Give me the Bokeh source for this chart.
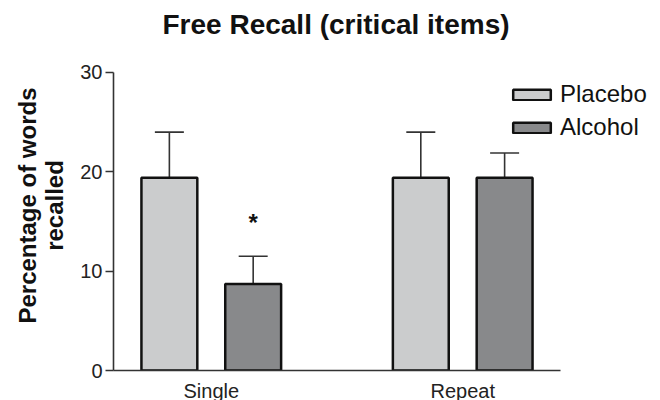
from bokeh.plotting import figure
from bokeh.models import (Range1d, FixedTicker, Whisker, TeeHead, ColumnDataSource,
                          Legend, LegendItem)
from bokeh.core.properties import value
from bokeh.embed import file_html
from bokeh.resources import INLINE

# ---- data ----
conditions = ["Single", "Repeat"]
placebo = [19.4, 19.4]
alcohol = [8.7, 19.4]
placebo_err = [4.6, 4.6]
alcohol_err = [2.8, 2.5]
y_ticks = [0, 10, 20, 30]
significant = [True, False]  # alcohol differs from placebo

FONT = "Liberation Sans"
PLACEBO_COLOR = "#cbcccd"
ALCOHOL_COLOR = "#88898b"

# layout of groups along a numeric x axis
group_gap = 4.5
group_start = 1.75
bar_offset = 0.75
bar_w = 1.0
centers = [group_start + i * group_gap for i in range(len(conditions))]
x_pl = [c - bar_offset for c in centers]
x_al = [c + bar_offset for c in centers]

p = figure(frame_width=547, frame_height=330, output_backend="svg",
           toolbar_location=None, x_range=Range1d(0, 9.79), y_range=Range1d(0, 33.22),
           min_border_left=113, min_border_right=0, min_border_top=40,
           min_border_bottom=0)
p.outline_line_color = None
p.grid.visible = False
p.background_fill_color = "white"

p.title.text = "Free Recall (critical items)"
p.title.text_font = FONT
p.title.text_font_size = "28px"
p.title.text_font_style = "bold"
p.title.text_color = "#111111"
p.title.align = "left"
p.title.offset = 49
p.title.standoff = 2

src_pl = ColumnDataSource(dict(x=x_pl, top=placebo, up=[v + e for v, e in zip(placebo, placebo_err)]))
src_al = ColumnDataSource(dict(x=x_al, top=alcohol, up=[v + e for v, e in zip(alcohol, alcohol_err)]))

for src in (src_pl, src_al):
    w = Whisker(source=src, base="x", lower="top", upper="up", dimension="height",
                line_color="#333333", line_width=1.6, lower_head=None,
                upper_head=TeeHead(size=29, line_color="#333333", line_width=1.6))
    p.add_layout(w)

r_pl = p.vbar(x="x", top="top", width=bar_w, source=src_pl, fill_color=PLACEBO_COLOR,
              line_color="#111111", line_width=2.5)
r_al = p.vbar(x="x", top="top", width=bar_w, source=src_al, fill_color=ALCOHOL_COLOR,
              line_color="#111111", line_width=2.5)

star_x = [x for x, s in zip(x_al, significant) if s]
star_y = [14.9 for s in significant if s]
p.text(x=star_x, y=star_y, text=["*"] * len(star_x), text_font=value(FONT),
       text_font_size="24px", text_font_style="bold", text_align="center",
       text_baseline="alphabetic", text_color="#111111")

# axes
ya = p.yaxis[0]
ya.ticker = FixedTicker(ticks=y_ticks)
ya.bounds = (0, 30)
ya.axis_line_color = "#333333"
ya.axis_line_width = 1.6
ya.major_tick_line_color = "#333333"
ya.major_tick_line_width = 1.6
ya.major_tick_out = 8
ya.major_tick_in = 0
ya.minor_tick_line_color = None
ya.major_label_standoff = 3
ya.major_label_text_font = FONT
ya.major_label_text_font_size = "20px"
ya.major_label_text_color = "#222222"
ya.axis_label = "Percentage of words\nrecalled"
ya.axis_label_text_font = FONT
ya.axis_label_text_font_size = "24px"
ya.axis_label_text_font_style = "bold"
ya.axis_label_text_color = "#111111"
ya.axis_label_text_align = "center"
ya.axis_label_text_line_height = 1.0
ya.axis_label_standoff = 9

xa = p.xaxis[0]
xa.ticker = FixedTicker(ticks=centers)
xa.major_label_overrides = {c: n for c, n in zip(centers, conditions)}
xa.bounds = (0, 8)
xa.axis_line_color = "#333333"
xa.axis_line_width = 1.6
xa.major_tick_line_color = None
xa.minor_tick_line_color = None
xa.major_label_standoff = 3
xa.major_label_text_font = FONT
xa.major_label_text_font_size = "20px"
xa.major_label_text_color = "#222222"

legend = Legend(items=[LegendItem(label="Placebo", renderers=[r_pl]),
                       LegendItem(label="Alcohol", renderers=[r_al])],
                location=(395, 229), padding=0, margin=0, spacing=5,
                glyph_width=47, glyph_height=13, label_height=25, label_standoff=5,
                label_text_font=FONT, label_text_font_size="24px", label_text_color="#111111",
                border_line_color=None, background_fill_alpha=0)
p.add_layout(legend)

open("out.html", "w").write(file_html(p, INLINE))
